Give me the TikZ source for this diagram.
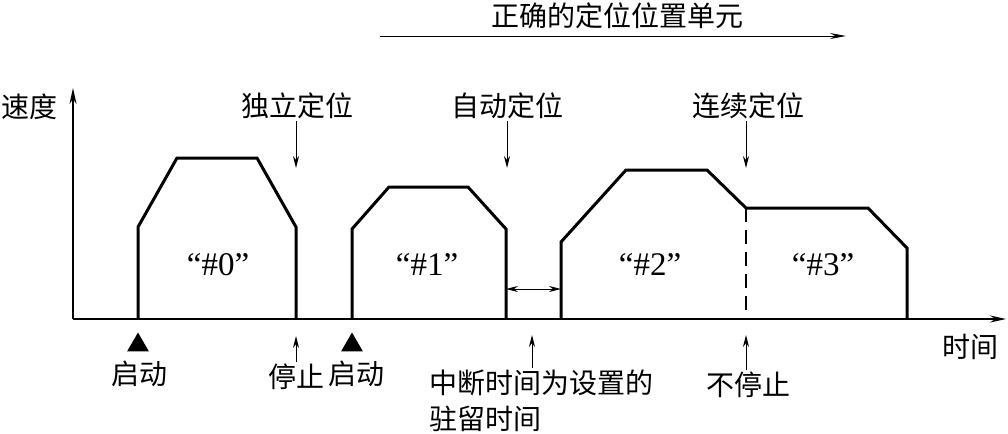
\documentclass[tikz,border=0pt]{standalone}
\usepackage{fontspec}
\setmainfont{Liberation Serif}
\newfontfamily\cjk{Noto Sans CJK SC}
\usetikzlibrary{
  arrows.meta,
  positioning,
  shapes.geometric
}

\begin{document}
\begin{tikzpicture}[
x=0.5pt,
y=-0.5pt,
font=\cjk\fontsize{14}{16}\selectfont,
profile/.style={line width=1.5pt, line join=miter},
axis/.style={line width=1pt, -{Stealth[length=8pt, width=3.5pt]}},
pointer/.style={line width=0.5pt, -{Stealth[length=6pt, width=3pt]}},
gap/.style={line width=0.5pt, {Stealth[length=6pt, width=3pt]}-{Stealth[length=6pt, width=3pt]}},
blocklabel/.style={font=\rmfamily\fontsize{16.5}{18}\selectfont},
startmark/.style={regular polygon, regular polygon sides=3, fill=black,
  minimum size=12.5pt, inner sep=0pt},
every node/.style={inner sep=1pt}
]
\useasboundingbox (0,0) rectangle (1008,434);

% Axes
\coordinate (origin) at (73,319);
\draw[axis] (origin) -- (73,88);
\draw[axis] (origin) -- (1006,319);
\node (vlabel) at (30,107) {速度};
\node (tlabel) at (970,347) {时间};

% Velocity profiles
\draw[profile] (138,319) -- (138,227) -- (177,158) -- (257,158) -- (296,227) -- (296,319);
\draw[profile] (352,319) -- (352,229) -- (389,187) -- (468,187) -- (506,229) -- (506,319);
\draw[profile] (561,319) -- (561,242) -- (626,170) -- (707,170) -- (746,208)
  -- (868,208) -- (907,248) -- (907,319);
\draw[line width=1pt, dash pattern=on 7pt off 4pt] (746,208) -- (746,319);

% Block labels
\node[blocklabel] (b0) at (218,265) {“\#0”};
\node[blocklabel] (b1) at (427,265) {“\#1”};
\node[blocklabel] (b2) at (650,265) {“\#2”};
\node[blocklabel] (b3) at (823,265) {“\#3”};

% Top range arrow
\node (range) at (617,16) {正确的定位位置单元};
\coordinate (rangeL) at (380,36);
\coordinate (rangeR) at (846,36);
\draw[line width=0.5pt, -{Stealth[length=8pt, width=3pt]}] (rangeL) -- (rangeR);

% Positioning modes
\node (indep) at (297,106) {独立定位};
\node (auto) at (507,106) {自动定位};
\node (cont) at (748,106) {连续定位};
\coordinate (indepP) at (296,168);
\coordinate (autoP) at (507,168);
\coordinate (contP) at (746,168);
\draw[pointer] (indep.south -| indepP) -- (indepP);
\draw[pointer] (auto.south -| autoP) -- (autoP);
\draw[pointer] (cont.south -| contP) -- (contP);

% Start marks
\node[startmark] (st0) at (138,345) {};
\node[startmark] (st1) at (352,345) {};
\node (go0) at (140,374) {启动};
\node (go1) at (356,374) {启动};

% Bottom notes
\node (halt) at (296,377) {停止};
\node[anchor=west] (dwell) at (427,383) {中断时间为设置的};
\node[anchor=west] (dwell2) at (427,419) {驻留时间};
\node (nohalt) at (748,385) {不停止};
\coordinate (haltP) at (296,336);
\coordinate (dwellP) at (532,335);
\coordinate (nohaltP) at (746,335);
\draw[pointer] (halt.north -| haltP) -- (haltP);
\draw[pointer] (dwell.north -| dwellP) -- (dwellP);
\draw[pointer] (nohalt.north -| nohaltP) -- (nohaltP);

% Dwell gap
\coordinate (gapL) at (506,289);
\coordinate (gapR) at (561,289);
\draw[gap] (gapL) -- (gapR);

\end{tikzpicture}
\end{document}
